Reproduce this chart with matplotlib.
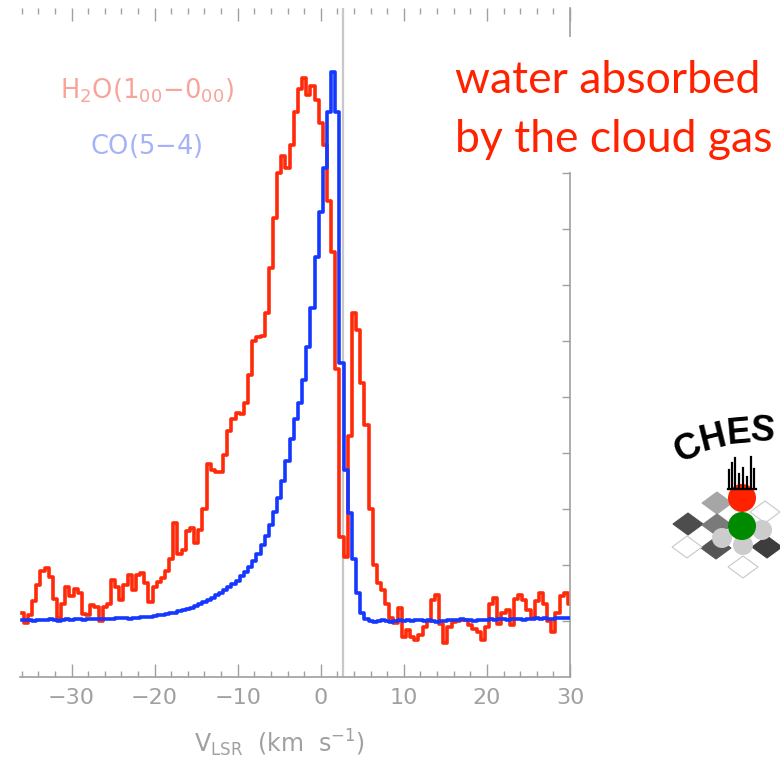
import matplotlib
matplotlib.use("Agg")
import matplotlib.pyplot as plt
import numpy as np
from matplotlib.patches import Circle, Polygon, Rectangle

plt.rcParams["font.family"] = ["DejaVu Sans"]
plt.rcParams["mathtext.fontset"] = "dejavusans"

# velocity channels (km/s), 0.5 km/s bins
vel = np.arange(-36.0, 30.01, 0.5)

# H2O(1_00-0_00) spectrum (arbitrary units)
h2o = [0.15, -0.03, 0.1, 0.35, 0.65, 0.9, 0.95, 0.78, 0.4, 0.05,
       0.3, 0.6, 0.45, 0.57, 0.5, 0.12, 0.1, 0.29, 0.25, 0.0,
       0.25, 0.3, 0.73, 0.6, 0.38, 0.65, 0.82, 0.55, 0.82, 0.86,
       0.68, 0.34, 0.6, 0.7, 0.77, 0.9, 1.1, 1.75, 1.2, 1.27,
       1.6, 1.66, 1.4, 1.62, 2.0, 2.8, 2.7, 2.66, 2.66, 2.96,
       3.4, 3.6, 3.72, 3.7, 3.9, 4.4, 5.0, 5.07, 5.1, 5.5,
       6.3, 7.2, 8.0, 8.3, 8.1, 8.5, 9.1, 9.5, 9.7, 9.4,
       9.55, 9.3,
       8.9, 8.5, 7.5, 6.6, 4.5, 1.5, 1.15, 3.3, 5.5, 5.2,
       4.25, 3.5, 2.0, 1.0, 0.68, 0.55, 0.3, 0.05, -0.04, 0.23,
       -0.28, -0.16, -0.28, -0.34, -0.25, -0.1, 0.0, 0.38, 0.46, -0.05,
       -0.4, -0.1, -0.02, 0.0, 0.02, 0.02, -0.08, -0.15, -0.2, -0.34,
       -0.1, 0.3, 0.41, -0.05, 0.14, 0.2, -0.08, 0.4, 0.46, 0.38,
       0.2, 0.05, 0.35, 0.5, 0.3, 0.0, -0.2, 0.15, 0.45, 0.5,
       0.3]

# CO(5-4) spectrum
co = [0.02, 0.01, 0.02, 0.0, 0.01, 0.02, 0.02, 0.03, 0.02, 0.0,
      0.02, 0.03, 0.02, 0.03, 0.03, 0.02, 0.03, 0.04, 0.03, 0.04,
      0.04, 0.03, 0.04, 0.05, 0.05, 0.05, 0.04, 0.05, 0.06, 0.07,
      0.07, 0.08, 0.09, 0.1, 0.11, 0.12, 0.14, 0.15, 0.17, 0.19,
      0.21, 0.24, 0.27, 0.3, 0.34, 0.37, 0.41, 0.46, 0.5, 0.55,
      0.6, 0.66, 0.72, 0.8, 0.88, 0.97, 1.08, 1.2, 1.35, 1.52,
      1.72, 1.95, 2.2, 2.5, 2.85, 3.25, 3.6, 3.9, 4.3, 4.9,
      5.6, 6.5,
      7.3, 8.1, 9.1, 9.8, 9.1, 4.6, 2.7, 1.93, 1.1, 0.5,
      0.15, 0.03, 0.0, -0.01, 0.0, 0.01, 0.0, -0.01, 0.0, 0.01,
      0.0, 0.01, 0.0, 0.01, 0.02, 0.0, 0.01, 0.0, -0.01, 0.0,
      0.0, 0.01, 0.02, 0.02, 0.03, 0.01, 0.02, 0.0, 0.01, 0.02,
      0.02, 0.03, 0.02, 0.03, 0.04, 0.02, 0.03, 0.04, 0.03, 0.02,
      0.03, 0.04, 0.05, 0.04, 0.05, 0.03, 0.04, 0.05, 0.05, 0.06,
      0.06]

v_source = 2.65
xticks = [-30, -20, -10, 0, 10, 20, 30]

W, H = 780, 765
fig = plt.figure(figsize=(7.8, 7.65), dpi=100)
ax = fig.add_axes([20 / W, (H - 677) / H, 550 / W, 669 / H])

grey = "#a0a0a0"
ax.axvline(v_source, color="#c8c8c8", lw=1.6, zorder=1)
ax.step(vel, h2o, where="mid", color="#ff2a0a", lw=2.6, zorder=2)
ax.step(vel, co, where="mid", color="#1438ff", lw=2.6, zorder=3)

ax.set_xlim(-36.2, 30)
ax.set_ylim(-1.0, 10.95)

for s in ["left", "top"]:
    ax.spines[s].set_visible(False)
for s in ["bottom", "right"]:
    ax.spines[s].set_color(grey)
    ax.spines[s].set_linewidth(1.2)

ax.set_xticks(xticks)
ax.set_xticklabels(["\u221230", "\u221220", "\u221210", "0", "10", "20", "30"])
ax.set_xticks(np.arange(-36, 31, 2), minor=True)
ax.set_yticks(np.arange(0, 11, 1))
ax.tick_params(axis="x", which="major", direction="in", length=9.5, width=1.0,
               color=grey, labelcolor=grey, labelsize=16, pad=8, top=True)
ax.tick_params(axis="x", which="minor", direction="in", length=4.5, width=1.0,
               color=grey, top=True)
ax.tick_params(axis="y", which="major", direction="in", length=6, width=1.0,
               color=grey, left=False, right=True, labelleft=False, labelright=False)

ax.set_xlabel(r"V$_{\rm LSR}$  (km  s$^{-1}$)", fontsize=17, color=grey)
ax.xaxis.set_label_coords((279 - 20) / 550, -0.076)

# overlay in pixel coordinates for annotations and logo
ov = fig.add_axes([0, 0, 1, 1], zorder=5)
ov.set_xlim(0, W)
ov.set_ylim(H, 0)
ov.axis("off")
ov.patch.set_alpha(0)

ov.text(60, 98, r"H$_2$O(1$_{00}$$-$0$_{00}$)", fontsize=18.5, color="#f7a49a",
        va="baseline", ha="left")
ov.text(90, 154, r"CO(5$-$4)", fontsize=18.5, color="#a6b2f7",
        va="baseline", ha="left")

ov.add_patch(Rectangle((440, 37), 340, 135, facecolor="white", edgecolor="none"))
ov.text(455, 93, "water absorbed", fontsize=32, color="#ff2200",
        family="Lato", va="baseline", ha="left")
ov.text(455, 152, "by the cloud gas", fontsize=32, color="#ff2200",
        family="Lato", va="baseline", ha="left")

# CHESS logo
for ch, x, y, rot in [("C", 688, 449, 26), ("H", 713, 439, 14),
                      ("E", 739, 433, 5), ("S", 763, 431, -4)]:
    ov.text(x, y, ch, fontsize=26, fontweight="bold", family="Liberation Sans",
            rotation=rot, ha="center", va="center", color="black")

def diamond(cx, cy, fc, ec):
    pts = [(cx - 15, cy), (cx, cy - 11), (cx + 15, cy), (cx, cy + 11)]
    ov.add_patch(Polygon(pts, closed=True, facecolor=fc, edgecolor=ec, lw=0.8))

for cx, cy, fc in [(688, 524, "#4d4d4d"), (717, 503, "#a6a6a6"),
                   (717, 525, "#7a7a7a"), (716, 548, "#555555"),
                   (767, 547, "#3d3d3d")]:
    diamond(cx, cy, fc, fc)
for cx, cy in [(687, 547), (765, 512), (743, 567)]:
    diamond(cx, cy, "white", "#c8c8c8")

for cx, cy in [(722, 538), (743, 545), (762, 530)]:
    ov.add_patch(Circle((cx, cy), 10, facecolor="#cccccc", edgecolor="none"))
ov.add_patch(Circle((742, 526), 14, facecolor="#008a00", edgecolor="none"))
ov.add_patch(Circle((742, 498), 14, facecolor="#ff2200", edgecolor="none"))
for bx, top in [(729, 470), (732, 463), (735, 458), (739, 474),
                (743, 468), (747, 477), (751, 457), (754, 469)]:
    ov.plot([bx, bx], [top, 489], color="black", lw=1.6)
ov.plot([728, 756], [489, 489], color="black", lw=1.6)

fig.savefig("out.png", dpi=100)
